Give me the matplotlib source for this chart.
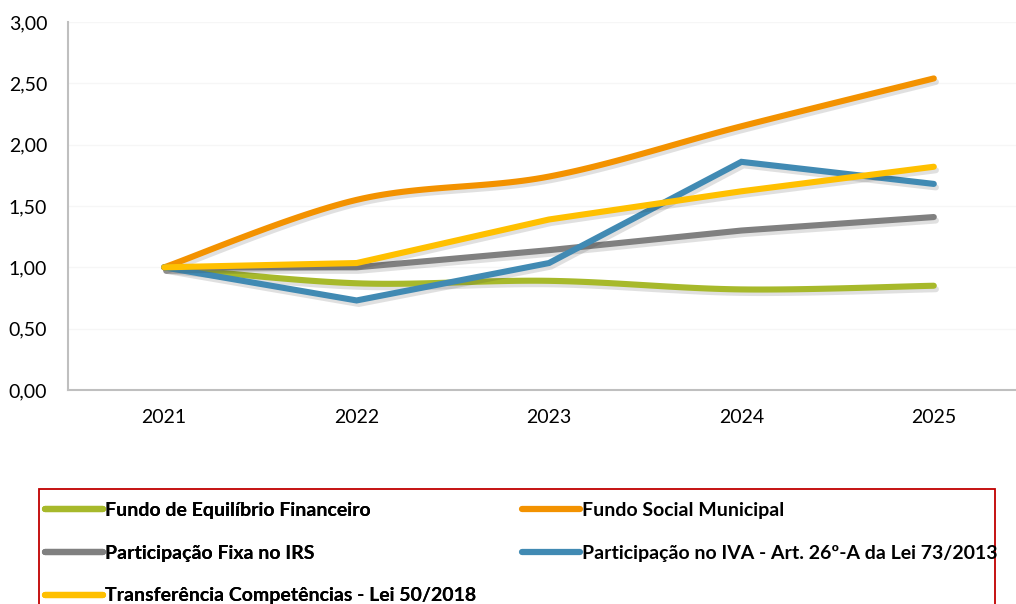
import numpy as np
import matplotlib
matplotlib.use("Agg")
import matplotlib.pyplot as plt
import matplotlib.patheffects as pe
from matplotlib.patches import Rectangle
from matplotlib.lines import Line2D

years = ["2021", "2022", "2023", "2024", "2025"]
fundo_equilibrio = [1.00, 0.87, 0.89, 0.82, 0.85]
fundo_social = [1.00, 1.55, 1.74, 2.15, 2.54]
irs_fixa = [1.00, 1.00, 1.14, 1.30, 1.41]
iva = [1.00, 0.73, 1.035, 1.86, 1.68]
transferencia = [1.00, 1.035, 1.39, 1.62, 1.82]

series = [
    ("Fundo de Equilíbrio Financeiro", fundo_equilibrio, "#A7B92B", True),
    ("Participação Fixa no IRS", irs_fixa, "#808080", False),
    ("Transferência Competências - Lei 50/2018", transferencia, "#FFC000", False),
    ("Fundo Social Municipal", fundo_social, "#F39200", True),
    ("Participação no IVA - Art. 26º-A da Lei 73/2013", iva, "#418AB3", False),
]
draw_order = [0, 3, 1, 4, 2]

plt.rcParams['font.family'] = ['Lato', 'DejaVu Sans']

def smooth(x, y, n=30):
    x = np.asarray(x, float); y = np.asarray(y, float)
    P = np.column_stack([x, y])
    out = []
    for i in range(len(P) - 1):
        p0 = P[max(i - 1, 0)]; p1 = P[i]; p2 = P[i + 1]; p3 = P[min(i + 2, len(P) - 1)]
        c1 = p1 + (p2 - p0) / 6.0
        c2 = p2 - (p3 - p1) / 6.0
        t = np.linspace(0, 1, n)[:, None]
        seg = (1 - t) ** 3 * p1 + 3 * (1 - t) ** 2 * t * c1 + 3 * (1 - t) * t ** 2 * c2 + t ** 3 * p2
        out.append(seg if i == 0 else seg[1:])
    out = np.vstack(out)
    return out[:, 0], out[:, 1]

fig = plt.figure(figsize=(10.16, 6.04), dpi=100)
ax = fig.add_axes([68 / 1016, 1 - 390 / 604, (1030 - 68) / 1016, 368 / 604])

x = np.arange(len(years))
shadow = [pe.SimpleLineShadow(offset=(1.5, -2.5), alpha=0.15, shadow_color="#333333"), pe.Normal()]
for idx in draw_order:
    label, vals, color, sm = series[idx]
    if sm:
        xs, ys = smooth(x, vals)
    else:
        xs, ys = x, np.asarray(vals)
    ax.plot(xs, ys, color=color, lw=4.4, solid_capstyle="round", solid_joinstyle="miter",
            path_effects=shadow, zorder=3)

ax.set_xlim(-0.5, 4.5)
ax.set_ylim(0, 3)
yt = np.arange(0, 3.01, 0.5)
ax.set_yticks(yt)
ax.set_yticklabels([f"{v:.2f}".replace(".", ",") for v in yt], fontsize=14)
ax.set_xticks(x)
ax.set_xticklabels(years, fontsize=14)
ax.tick_params(axis='x', length=0, pad=14)
ax.tick_params(axis='y', length=0, pad=15)
for s in ["top", "right"]:
    ax.spines[s].set_visible(False)
for s in ["left", "bottom"]:
    ax.spines[s].set_color("#BFBFBF")
    ax.spines[s].set_linewidth(1.5)
ax.grid(axis='y', color="#F6F6F6", lw=1)
ax.set_axisbelow(True)

# legend frame
fig.patches.append(Rectangle((39 / 1016, -0.05), (995 - 39) / 1016, (1 - 489 / 604) + 0.05,
                             transform=fig.transFigure, fill=False, edgecolor="#C00000", lw=1.3))
handles = [Line2D([0], [0], color=c, lw=4.5, solid_capstyle="round") for _, _, c, _ in series]
labels = [l for l, _, _, _ in series]
common = dict(loc="upper left", frameon=False, prop={'weight': 'bold', 'size': 14},
              handlelength=3.0, handletextpad=0.1, labelspacing=1.32,
              borderaxespad=0, borderpad=0)
leg1 = fig.legend(handles[:3], labels[:3], bbox_to_anchor=(45 / 1016, 1 - 502 / 604), **common)
fig.add_artist(leg1)
leg2 = fig.legend(handles[3:], labels[3:], bbox_to_anchor=(522 / 1016, 1 - 502 / 604), **common)
fig.savefig("out.png", dpi=100)
